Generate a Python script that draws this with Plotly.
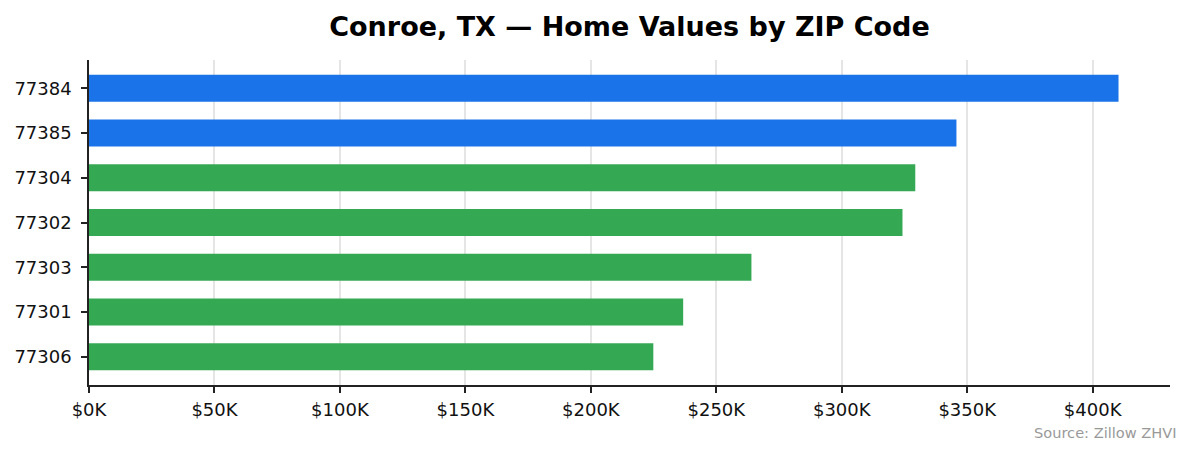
import plotly.graph_objects as go

# ZIP codes, top to bottom as shown
zips = ["77384", "77385", "77304", "77302", "77303", "77301", "77306"]
# typical home value (ZHVI), thousands of dollars
values_k = [410.3, 345.7, 329.3, 324.2, 264.0, 236.8, 224.9]
# blue = neighbouring (The Woodlands side) ZIPs, green = Conroe proper
groups = ["blue", "blue", "green", "green", "green", "green", "green"]

tick_vals = [0, 50, 100, 150, 200, 250, 300, 350, 400]
tick_text = ["$0K", "$50K", "$100K", "$150K", "$200K", "$250K", "$300K", "$350K", "$400K"]

palette = {"blue": "#1a73e8", "green": "#34a853"}
axis_col = "#222222"

# page body has an 8px margin, so the figure is sized to fill the rest
W, H = 1187, 447

fig = go.Figure()

fig.add_trace(go.Bar(
    x=values_k,
    y=zips,
    orientation="h",
    width=0.6,
    marker=dict(color=[palette[g] for g in groups], line=dict(width=0)),
    hovertemplate="%{y}: $%{x:.1f}K<extra></extra>",
    showlegend=False,
))

fig.update_layout(
    width=W,
    height=H,
    margin=dict(l=81, r=25, t=52, b=70),
    paper_bgcolor="white",
    plot_bgcolor="white",
    font=dict(family="DejaVu Sans", size=18, color="#111111"),
    title=dict(
        text="<b>Conroe, TX — Home Values by ZIP Code</b>",
        font=dict(size=27, color="#000000"),
        x=0.5, xref="paper", xanchor="center",
        y=1 - 19 / H, yref="container", yanchor="middle",
    ),
)

fig.update_xaxes(
    range=[0, max(values_k) * 1.05],
    tickvals=tick_vals,
    ticktext=tick_text,
    showgrid=True,
    gridcolor="rgba(170,170,170,0.3)",
    gridwidth=1.5,
    layer="above traces",
    zeroline=False,
    showline=True,
    linecolor=axis_col,
    linewidth=1.5,
    ticks="outside",
    ticklen=6,
    tickwidth=1.5,
    tickcolor=axis_col,
    ticklabelstandoff=2,
    automargin=False,
)

fig.update_yaxes(
    type="category",
    range=[len(zips) - 1 + 0.63, -0.63],
    showgrid=False,
    zeroline=False,
    showline=True,
    linecolor=axis_col,
    linewidth=1.5,
    ticks="outside",
    ticklen=6,
    tickwidth=1.5,
    tickcolor=axis_col,
    ticklabelstandoff=6,
    automargin=False,
)

fig.add_annotation(
    text="Source: Zillow ZHVI",
    xref="paper", yref="paper",
    x=(1171 - 81) / 1081, y=(377 - 424) / 325,
    xanchor="right", yanchor="middle",
    showarrow=False,
    font=dict(size=14.6, color="#999999"),
)

fig.write_html("out.html")
